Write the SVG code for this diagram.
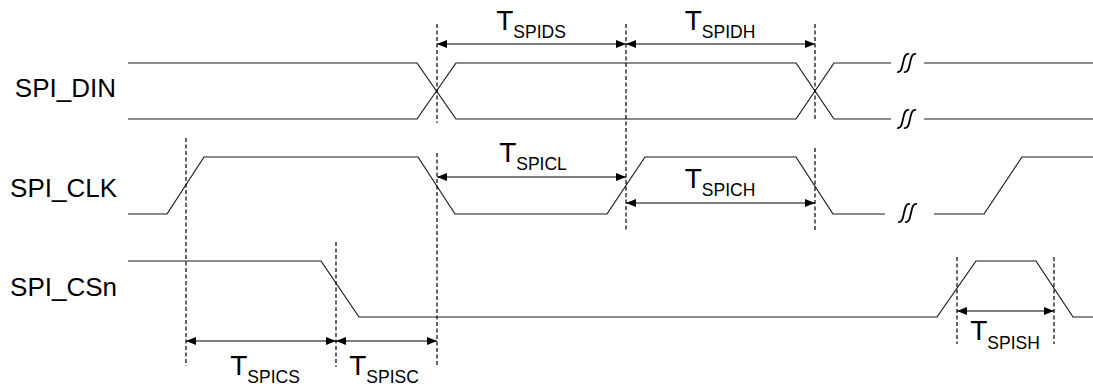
<svg xmlns="http://www.w3.org/2000/svg" width="1093" height="390" viewBox="0 0 1093 390">
<style>
.sig{fill:none;stroke:#1a1a1a;stroke-width:1.2}
.dash{fill:none;stroke:#000;stroke-width:1.2;stroke-dasharray:4,2.5}
.arr{fill:none;stroke:#000;stroke-width:1.2;marker-start:url(#ah);marker-end:url(#ah)}
.brk{fill:none;stroke:#000;stroke-width:1.8}
.lbl{font-family:"Liberation Sans",Arial,sans-serif;font-size:26px;fill:#000}
.t{font-family:"Liberation Sans",Arial,sans-serif;font-size:28px;fill:#000;text-anchor:middle}
.s{font-size:17.5px}
</style>
<defs>
<marker id="ah" viewBox="0 0 10 8" refX="10" refY="4" markerWidth="10" markerHeight="8" markerUnits="userSpaceOnUse" orient="auto-start-reverse">
<path d="M0,0 L10,4 L0,8 z" fill="#000"/>
</marker>
<path id="sq" d="M-10,9 C-6,10 -5,5 -4,0 C-3,-5 -2,-10 2,-9 M-3,9 C1,10 2,5 3,0 C4,-5 5,-10 9,-9"/>
</defs>

<g id="labels">
<text class="lbl" x="116" y="97" text-anchor="end">SPI_DIN</text>
<text class="lbl" x="117" y="197" text-anchor="end">SPI_CLK</text>
<text class="lbl" x="117" y="296" text-anchor="end">SPI_CSn</text>
</g>

<g id="SPI_DIN">
<path class="sig" d="M128,63 L417,63 L456,119 L796,119 L834,63 L891,63"/>
<path class="sig" d="M128,119 L417,119 L456,63 L796,63 L834,119 L891,119"/>
<path class="sig" d="M924,63 L1093,63 M924,119 L1093,119"/>
<use href="#sq" class="brk" x="907" y="63"/>
<use href="#sq" class="brk" x="907" y="119"/>
</g>

<g id="SPI_CLK">
<path class="sig" d="M128,214 L167,214 L204,157 L418,157 L455,214 L607,214 L645,157 L796,157 L833,214 L885,214"/>
<path class="sig" d="M934,214 L984,214 L1022,157 L1093,157"/>
<use href="#sq" class="brk" x="908" y="213"/>
</g>

<g id="SPI_CSn">
<path class="sig" d="M128,261 L321,261 L359,317 L937,317 L976,261 L1036,261 L1073,317 L1093,317"/>
</g>

<g id="connectors">
<path class="dash" d="M437,24 V123 M437,153 V367"/>
<path class="dash" d="M626,24 V230"/>
<path class="dash" d="M815,24 V120 M815,148 V232"/>
<path class="dash" d="M186,138 V366"/>
<path class="dash" d="M336,242 V367"/>
<path class="dash" d="M957,257 V344 M1054,257 V344"/>
<line class="arr" x1="437" y1="44" x2="626" y2="44"/>
<line class="arr" x1="626" y1="44" x2="815" y2="44"/>
<line class="arr" x1="437" y1="177" x2="626" y2="177"/>
<line class="arr" x1="626" y1="203" x2="815" y2="203"/>
<line class="arr" x1="186" y1="341" x2="336" y2="341"/>
<line class="arr" x1="336" y1="341" x2="437" y2="341"/>
<line class="arr" x1="957" y1="311" x2="1054" y2="311"/>
</g>

<g id="timing-labels">
<text class="t" x="531" y="30">T<tspan class="s" dy="7.5">SPIDS</tspan></text>
<text class="t" x="720" y="30">T<tspan class="s" dy="7.5">SPIDH</tspan></text>
<text class="t" x="533" y="162">T<tspan class="s" dy="7.5">SPICL</tspan></text>
<text class="t" x="720" y="188">T<tspan class="s" dy="8">SPICH</tspan></text>
<text class="t" x="265" y="375">T<tspan class="s" dy="8">SPICS</tspan></text>
<text class="t" x="384" y="375">T<tspan class="s" dy="8">SPISC</tspan></text>
<text class="t" x="1005" y="340">T<tspan class="s" dy="9">SPISH</tspan></text>
</g>
</svg>
